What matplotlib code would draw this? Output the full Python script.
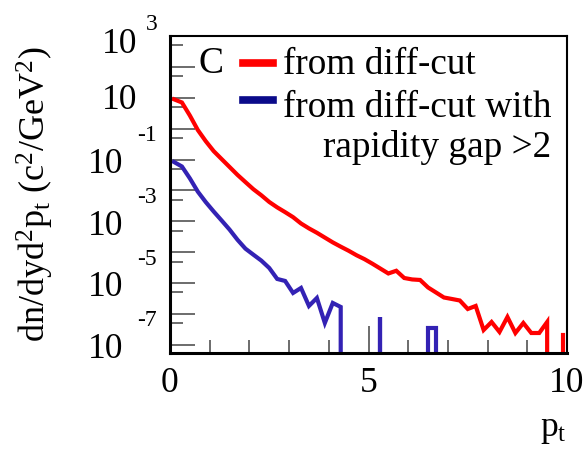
import numpy as np
import matplotlib
matplotlib.use("Agg")
import matplotlib.pyplot as plt
from matplotlib.ticker import FixedLocator, NullFormatter
from matplotlib.lines import Line2D

plt.rcParams['font.family'] = 'serif'
plt.rcParams['font.serif'] = ['Liberation Serif', 'Times New Roman', 'DejaVu Serif']
plt.rcParams['mathtext.fontset'] = 'custom'
plt.rcParams['mathtext.rm'] = 'Liberation Serif'
plt.rcParams['mathtext.it'] = 'Liberation Serif:italic'

# bin centres in pt (50 bins of 0.2)
pt = np.arange(50) * 0.2 + 0.1

# dn/dyd2pt (0 = empty bin)
red_vals = [8.94, 7.05, 2.67, 0.908, 0.395, 0.188, 0.104, 0.0577, 0.032, 0.0187,
            0.0110, 0.0070, 0.00425, 0.00284, 0.00199, 0.00137, 8.55e-4, 5.93e-4, 4.28e-4, 2.99e-4,
            2.09e-4, 1.52e-4, 1.12e-4, 8.0e-5, 5.98e-5, 4.25e-5, 2.96e-5, 2.06e-5, 2.52e-5, 1.47e-5,
            1.32e-5, 1.27e-5, 7.26e-6, 5.0e-6, 3.44e-6, 3.08e-6, 2.75e-6, 1.46e-6, 1.83e-6, 3.05e-7,
            5.54e-7, 2.64e-7, 8.05e-7, 2.44e-7, 5.15e-7, 2.44e-7, 2.44e-7, 5.54e-7, 0, 2.11e-7]

blue_vals = [0.0836, 0.0598, 0.0247, 0.0092, 0.00422, 0.00209, 0.00107, 5.43e-4, 2.54e-4, 1.31e-4,
             8.36e-5, 5.38e-5, 3.10e-5, 1.37e-5, 1.18e-5, 4.82e-6, 7.0e-6, 1.83e-6, 3.32e-6, 5.15e-7,
             2.29e-6, 1.70e-6, 0, 0, 0, 0, 8.05e-7, 0, 0, 0,
             0, 0, 3.55e-7, 3.55e-7, 0, 0, 0, 0, 0, 0,
             0, 0, 0, 0, 0, 0, 0, 0, 0, 0]

ymin, ymax = 10 ** -7.26, 1e3
W, H = 587, 449


def draw_hist(ax, x, vals, color):
    # polyline through bin centres, empty bins drop to the frame bottom
    vals = np.asarray(vals, dtype=float)
    n = len(vals)
    i = 0
    while i < n:
        if vals[i] <= 0:
            i += 1
            continue
        j = i
        while j + 1 < n and vals[j + 1] > 0:
            j += 1
        xs = list(x[i:j + 1])
        ys = list(vals[i:j + 1])
        if i > 0:
            xs = [x[i]] + xs
            ys = [ymin * 0.5] + ys
        if j < n - 1:
            xs = xs + [x[j]]
            ys = ys + [ymin * 0.5]
        ax.plot(xs, ys, color=color, lw=3.0, solid_joinstyle='miter')
        i = j + 1


fig = plt.figure(figsize=(W / 100, H / 100), dpi=100)
ax = fig.add_axes([170 / W, 1 - 353 / H, 397 / W, 317 / H])

draw_hist(ax, pt, red_vals, '#ff0000')
draw_hist(ax, pt, blue_vals, '#3322b4')

ax.set_yscale('log')
ax.set_xlim(0, 10)
ax.set_ylim(ymin, ymax)

for s in ax.spines.values():
    s.set_linewidth(2.2)
ax.spines['top'].set_linewidth(1.5)
ax.spines['right'].set_linewidth(1.5)

# y ticks
decades = [10.0 ** k for k in range(-7, 4)]
ax.yaxis.set_major_locator(FixedLocator(decades))
ax.yaxis.set_minor_locator(FixedLocator([0.5 * 10.0 ** k for k in range(-7, 4)]))
ax.yaxis.set_minor_formatter(NullFormatter())
ax.set_yticklabels([''] * len(decades))
ax.tick_params(axis='y', which='major', direction='in', length=18, width=1.1, color='#444444')
ax.tick_params(axis='y', which='minor', direction='in', length=9.5, width=1.1, color='#444444')

# x ticks
ax.set_xticks([0, 5, 10])
ax.set_xticklabels(['0', '5', '10'], fontsize=25.5)
ax.xaxis.set_minor_locator(FixedLocator([1, 2, 3, 4, 6, 7, 8, 9]))
ax.tick_params(axis='x', which='major', direction='in', length=19.5, width=1.1, color='#444444', pad=10)
ax.tick_params(axis='x', which='minor', direction='in', length=9.5, width=1.1, color='#444444')

# ROOT-like y labels: "10" plus a raised exponent
ytr = ax.get_yaxis_transform()
label_exps = [3, 1, -1, -3, -5, -7]
for e in label_exps:
    v = 10.0 ** e
    if e == 3:
        ax.text((137 - 170) / 397, v * 10 ** -0.29, '10', transform=ytr, ha='right', va='center',
                fontsize=25.5, clip_on=False)
        ax.text((152 - 170) / 397, v * 10 ** 0.36, '3', transform=ytr, ha='center', va='center',
                fontsize=17, clip_on=False)
    elif e == 1:
        ax.text((137 - 170) / 397, v * 10 ** -0.1, '10', transform=ytr, ha='right', va='center',
                fontsize=25.5, clip_on=False)
    else:
        ax.text((123 - 170) / 397, v * 10 ** -0.15, '10', transform=ytr, ha='right', va='center',
                fontsize=25.5, clip_on=False)
        ax.text((147 - 170) / 397, v * 10 ** 0.78, str(e), transform=ytr, ha='center', va='center',
                fontsize=17, clip_on=False)

# axis titles
fig.text(35 / W, 1 - 194 / H, r'dn/dyd$^{\mathrm{2}}$p$_{\mathrm{t}}$ (c$^{\mathrm{2}}$/GeV$^{\mathrm{2}}$)',
         rotation=90, ha='center', va='center', fontsize=26)
fig.text(567 / W, 1 - 436 / H, r'p$_{\mathrm{t}}$', ha='right', va='baseline', fontsize=25.5)

# panel letter and legend
fig.text(198 / W, 1 - 73 / H, 'C', ha='left', va='baseline', fontsize=27)
fig.add_artist(Line2D([243 / W, 273 / W], [1 - 62.7 / H] * 2, color='#ff0000', lw=5.5))
fig.add_artist(Line2D([243 / W, 273 / W], [1 - 100 / H] * 2, color='#0a0a8a', lw=5.5))
fig.text(283 / W, 1 - 74.3 / H, 'from diff-cut', ha='left', va='baseline', fontsize=26.8)
fig.text(283 / W, 1 - 116.7 / H, 'from diff-cut with', ha='left', va='baseline', fontsize=26.8)
fig.text(551 / W, 1 - 156.7 / H, 'rapidity gap >2', ha='right', va='baseline', fontsize=26.8)

fig.savefig('out.png', dpi=100)
